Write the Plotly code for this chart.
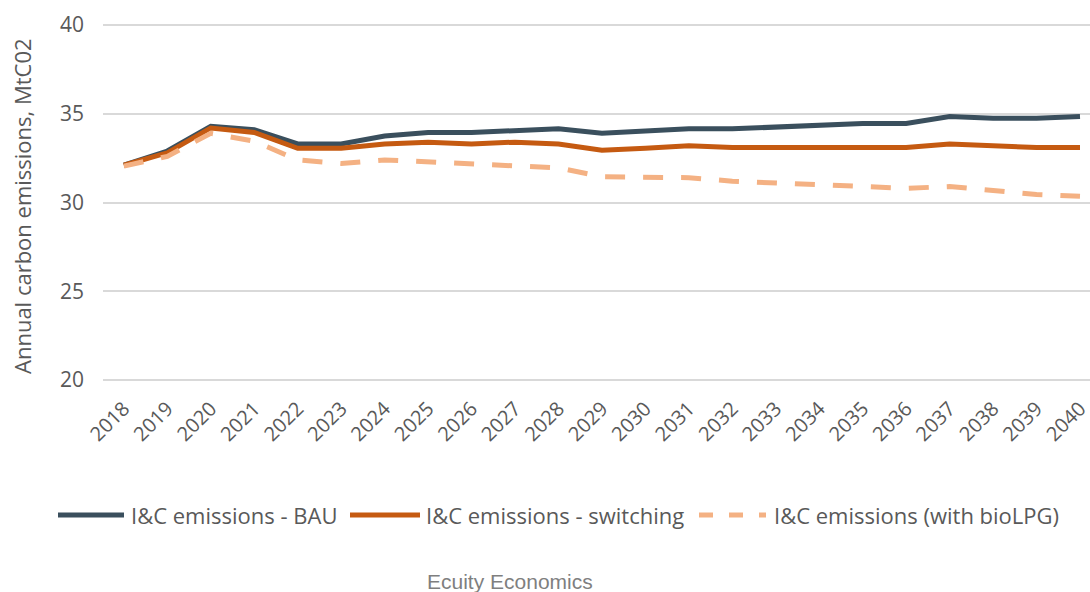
import plotly.graph_objects as go

# data
years = [str(y) for y in range(2018, 2041)]
bau = [32.1, 32.9, 34.3, 34.1, 33.3, 33.3, 33.75, 33.95, 33.95, 34.05, 34.15, 33.9,
       34.05, 34.15, 34.15, 34.25, 34.35, 34.45, 34.45, 34.85, 34.75, 34.75, 34.85]
switching = [32.1, 32.8, 34.2, 33.95, 33.05, 33.05, 33.3, 33.4, 33.3, 33.4, 33.3, 32.95,
             33.05, 33.2, 33.1, 33.1, 33.1, 33.1, 33.1, 33.3, 33.2, 33.1, 33.1]
biolpg = [32.05, 32.6, 33.9, 33.45, 32.4, 32.2, 32.4, 32.3, 32.2, 32.1, 31.95, 31.45,
          31.45, 31.4, 31.2, 31.1, 31.0, 30.9, 30.8, 30.9, 30.7, 30.45, 30.35]
series_names = ['I&C emissions - BAU', 'I&C emissions - switching', 'I&C emissions (with bioLPG)']
y_ticks = [20, 25, 30, 35, 40]

colors = ['#3a4f5d', '#c55a11', '#f4b183']
dashes = ['solid', 'solid', '20px,18px']
TEXT = '#595959'
FONT = 'Open Sans'

W, H = 1090, 592
# gridline 40 sits at y=25px, gridline 20 at y=380px; pad 4px so the edge gridlines show
PAD = 4
unit = (380 - 25) / 20
L, T = 103, 25 - PAD
R, B = 0, H - 380 - PAD
pw, ph = W - L - R, H - T - B
y_range = [20 - PAD / unit, 40 + PAD / unit]


def px(x):
    return (x - L) / pw


def py(y):
    return (H - B - y) / ph


fig = go.Figure()
for name, vals, c, d in zip(series_names, [bau, switching, biolpg], colors, dashes):
    fig.add_trace(go.Scatter(x=years, y=vals, name=name, mode='lines',
                             line=dict(color=c, width=5, dash=d), showlegend=False))

# hand-drawn legend (long line samples like the original)
legend_items = [(58, 124, 129), (350, 420, 424), (699, 766, 772)]
for (x0, x1, tx), name, c, d in zip(legend_items, series_names, colors, dashes):
    fig.add_shape(type='line', xref='paper', yref='paper',
                  x0=px(x0), x1=px(x1), y0=py(515), y1=py(515),
                  line=dict(color=c, width=5, dash='14px,16px' if d != 'solid' else 'solid'))
    fig.add_annotation(text=name, xref='paper', yref='paper', x=px(tx), y=py(515),
                       xanchor='left', yanchor='middle', showarrow=False,
                       font=dict(family=FONT, size=22, color=TEXT))

fig.add_annotation(text='Annual carbon emissions, MtC02', xref='paper', yref='paper',
                   x=px(22), y=py(206), textangle=-90, showarrow=False,
                   xanchor='center', yanchor='middle',
                   font=dict(family=FONT, size=22, color=TEXT))

fig.add_annotation(text='Ecuity Economics', xref='paper', yref='paper',
                   x=px(510), y=py(581), showarrow=False,
                   xanchor='center', yanchor='middle',
                   font=dict(family='Liberation Sans', size=21, color='#7f7f7f'))

fig.update_layout(
    width=W, height=H,
    margin=dict(l=L, r=R, t=T, b=B),
    plot_bgcolor='white', paper_bgcolor='white',
    font=dict(family=FONT, color=TEXT),
)
fig.update_xaxes(type='category', range=[-0.48, 22.23], showgrid=False, zeroline=False,
                 showline=False, tickangle=-45, tickfont=dict(size=20, color=TEXT),
                 ticklabelstandoff=8)
fig.update_yaxes(range=y_range, tickvals=y_ticks, showgrid=True, gridcolor='#d9d9d9',
                 gridwidth=2, zeroline=False, showline=False,
                 tickfont=dict(size=21, color=TEXT), ticklabelstandoff=18)

# drop the default 8px body margin so the figure sits at the window's corner
fig.write_html('out.html', config={'displayModeBar': False},
               post_script="document.body.style.margin='0';")
